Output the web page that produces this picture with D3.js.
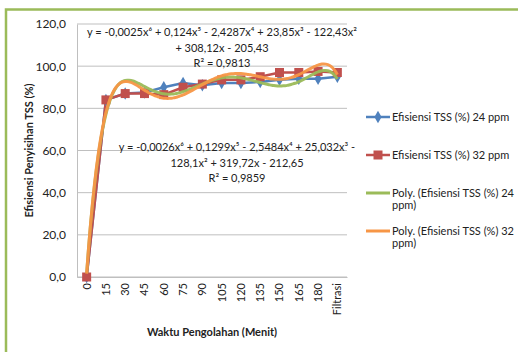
<!DOCTYPE html>
<html>
<head>
<meta charset="utf-8">
<script src="https://cdn.jsdelivr.net/npm/d3@7"></script>
<style>
  body { margin: 0; background: #fff; }
  svg text { font-family: Lato, "Open Sans", sans-serif; fill: #222; }
</style>
</head>
<body>
<div id="chart"></div>
<script>
// values
let categories = ['0', '15', '30', '45', '60', '75', '90', '105', '120', '135', '150', '165', '180', 'Filtrasi'];
let eff24 = [0, 84, 87, 87.5, 90, 92, 91, 92, 92, 92.5, 93.5, 94, 94, 95];
let eff32 = [0, 84, 87, 87, 86.5, 90, 91.5, 93.5, 93.5, 95, 97, 97, 97.5, 97];
let yTicks = [0, 20, 40, 60, 80, 100, 120];

let eq24 = ['y = -0,0025x⁶ + 0,124x⁵ - 2,4287x⁴ + 23,85x³ - 122,43x²', '+ 308,12x - 205,43', 'R² = 0,9813'];
let eq32 = ['y = -0,0026x⁶ + 0,1299x⁵ - 2,5484x⁴ + 25,032x³ -', '128,1x² + 319,72x - 212,65', 'R² = 0,9859'];

let legendLabels = [
  ['Efisiensi TSS (%) 24 ppm'],
  ['Efisiensi TSS (%) 32 ppm'],
  ['Poly. (Efisiensi TSS (%) 24', 'ppm)'],
  ['Poly. (Efisiensi TSS (%) 32', 'ppm)']
];

let width = 518, height = 352;
let margin = { left: 77, right: 171, top: 24, bottom: 75 };

let svg = d3.select('#chart').append('svg').attr('width', width).attr('height', height);

/// green frame
svg.append('path')
  .attr('d', 'M6,352 L6,9.5 L518,9.5')
  .attr('fill', 'none')
  .attr('stroke', '#9bbb59')
  .attr('stroke-width', 2.5);

let x = d3.scaleBand().domain(categories).range([margin.left, width - margin.right]);
let y = d3.scaleLinear().domain([0, 120]).range([height - margin.bottom, margin.top]);

/// gridlines
svg.append('g').selectAll('line')
  .data(yTicks)
  .enter().append('line')
  .attr('x1', margin.left).attr('x2', width - margin.right)
  .attr('y1', function(d) { return y(d); }).attr('y2', function(d) { return y(d); })
  .attr('stroke', '#bfbfbf').attr('stroke-width', 1);

/// y axis
let yAxis = svg.append('g')
  .attr('transform', 'translate(' + margin.left + ',0)')
  .call(d3.axisLeft(y).tickValues(yTicks).tickSize(0).tickPadding(11)
    .tickFormat(function(d) { return d.toFixed(1).replace('.', ','); }));
yAxis.select('.domain').attr('stroke', '#bfbfbf');
yAxis.selectAll('text').style('font-size', '12px').attr('fill', '#333');

/// x axis
let xAxis = svg.append('g')
  .attr('transform', 'translate(0,' + y(0) + ')')
  .call(d3.axisBottom(x).tickSize(0).tickPadding(0));
xAxis.select('.domain').attr('stroke', '#bfbfbf');
xAxis.selectAll('text')
  .style('font-size', '11px').attr('fill', '#333')
  .attr('text-anchor', 'end')
  .attr('dy', '0.35em')
  .attr('transform', 'translate(0,6) rotate(-90)');

/// axis titles
svg.append('text')
  .attr('transform', 'translate(33,' + (margin.top + y(0)) / 2 + ') rotate(-90)')
  .attr('text-anchor', 'middle')
  .style('font-size', '11px').style('font-weight', 'bold')
  .text('Efisiensi Penyisihan TSS (%)');

svg.append('text')
  .attr('x', (margin.left + width - margin.right) / 2).attr('y', 336)
  .attr('text-anchor', 'middle')
  .style('font-size', '11px').style('font-weight', 'bold')
  .text('Waktu Pengolahan (Menit)');

/// 6th order least squares fit, x = 1..n like the spreadsheet does
function polyFit(vals, order) {
  let n = vals.length;
  let mid = (n + 1) / 2, half = (n - 1) / 2;
  let A = [], b = [];
  for (let i = 0; i <= order; i++) { A.push(new Array(order + 1).fill(0)); b.push(0); }
  vals.forEach(function(v, k) {
    let t = (k + 1 - mid) / half;
    for (let i = 0; i <= order; i++) {
      for (let j = 0; j <= order; j++) A[i][j] += Math.pow(t, i + j);
      b[i] += v * Math.pow(t, i);
    }
  });
  // gaussian elimination
  let m = order + 1;
  for (let c = 0; c < m; c++) {
    let p = c;
    for (let r = c + 1; r < m; r++) if (Math.abs(A[r][c]) > Math.abs(A[p][c])) p = r;
    [A[c], A[p]] = [A[p], A[c]]; [b[c], b[p]] = [b[p], b[c]];
    for (let r = c + 1; r < m; r++) {
      let f = A[r][c] / A[c][c];
      for (let j = c; j < m; j++) A[r][j] -= f * A[c][j];
      b[r] -= f * b[c];
    }
  }
  let coef = new Array(m).fill(0);
  for (let r = m - 1; r >= 0; r--) {
    let s = b[r];
    for (let j = r + 1; j < m; j++) s -= A[r][j] * coef[j];
    coef[r] = s / A[r][r];
  }
  return function(xv) {
    let t = (xv - mid) / half, s = 0;
    for (let i = 0; i < m; i++) s += coef[i] * Math.pow(t, i);
    return s;
  };
}

let step = x.step();
function xPos(i) { return x(categories[0]) + step / 2 + i * step; }

/// series lines
let lineGen = d3.line()
  .x(function(d, i) { return xPos(i); })
  .y(function(d) { return y(d); });

svg.append('path').datum(eff24)
  .attr('d', lineGen).attr('fill', 'none')
  .attr('stroke', '#4f81bd').attr('stroke-width', 2.5);

svg.append('path').datum(eff32)
  .attr('d', lineGen).attr('fill', 'none')
  .attr('stroke', '#c0504d').attr('stroke-width', 2.5);

/// markers
let diamond = d3.symbol().type(d3.symbolDiamond).size(45);
svg.append('g').selectAll('path')
  .data(eff24).enter().append('path')
  .attr('d', diamond)
  .attr('transform', function(d, i) { return 'translate(' + xPos(i) + ',' + y(d) + ')'; })
  .attr('fill', '#4f81bd');

svg.append('g').selectAll('rect')
  .data(eff32).enter().append('rect')
  .attr('x', function(d, i) { return xPos(i) - 4.5; })
  .attr('y', function(d) { return y(d) - 4.5; })
  .attr('width', 9).attr('height', 9)
  .attr('fill', '#c0504d');

/// polynomial trend lines
let trends = [{ vals: eff24, color: '#9bbb59' }, { vals: eff32, color: '#f79646' }];
trends.forEach(function(tr) {
  let f = polyFit(tr.vals, 6);
  let pts = d3.range(1, categories.length + 0.001, 0.1);
  svg.append('path').datum(pts)
    .attr('d', d3.line()
      .x(function(d) { return xPos(d - 1); })
      .y(function(d) { return y(f(d)); })
      .curve(d3.curveMonotoneX))
    .attr('fill', 'none')
    .attr('stroke', tr.color).attr('stroke-width', 3)
    .attr('stroke-opacity', 0.95);
});

/// trendline equations
function eqLabel(lines, cx, y0) {
  svg.append('g').selectAll('text')
    .data(lines).enter().append('text')
    .attr('x', cx).attr('y', function(d, i) { return y0 + i * 15.5; })
    .attr('text-anchor', 'middle')
    .style('font-size', '11px')
    .text(function(d) { return d; });
}
eqLabel(eq24, 222, 36);
eqLabel(eq32, 237, 151);

/// legend
let legend = svg.append('g').attr('transform', 'translate(366,0)');
let legendY = [117, 155, 193, 231];
let legendStyle = [
  { color: '#4f81bd', mark: 'diamond', w: 2.5 },
  { color: '#c0504d', mark: 'square', w: 2.5 },
  { color: '#9bbb59', mark: null, w: 3 },
  { color: '#f79646', mark: null, w: 3 }
];
legendLabels.forEach(function(lines, k) {
  let st = legendStyle[k];
  let ly = legendY[k];
  legend.append('line')
    .attr('x1', 0).attr('x2', 24).attr('y1', ly).attr('y2', ly)
    .attr('stroke', st.color).attr('stroke-width', st.w);
  if (st.mark === 'diamond') {
    legend.append('path').attr('d', diamond)
      .attr('transform', 'translate(12,' + ly + ')').attr('fill', st.color);
  } else if (st.mark === 'square') {
    legend.append('rect').attr('x', 7.5).attr('y', ly - 4.5)
      .attr('width', 9).attr('height', 9).attr('fill', st.color);
  }
  lines.forEach(function(t, j) {
    legend.append('text')
      .attr('x', 26).attr('y', ly + j * 12.5).attr('dy', '0.35em')
      .style('font-size', '11px')
      .text(t);
  });
});
</script>
</body>
</html>
